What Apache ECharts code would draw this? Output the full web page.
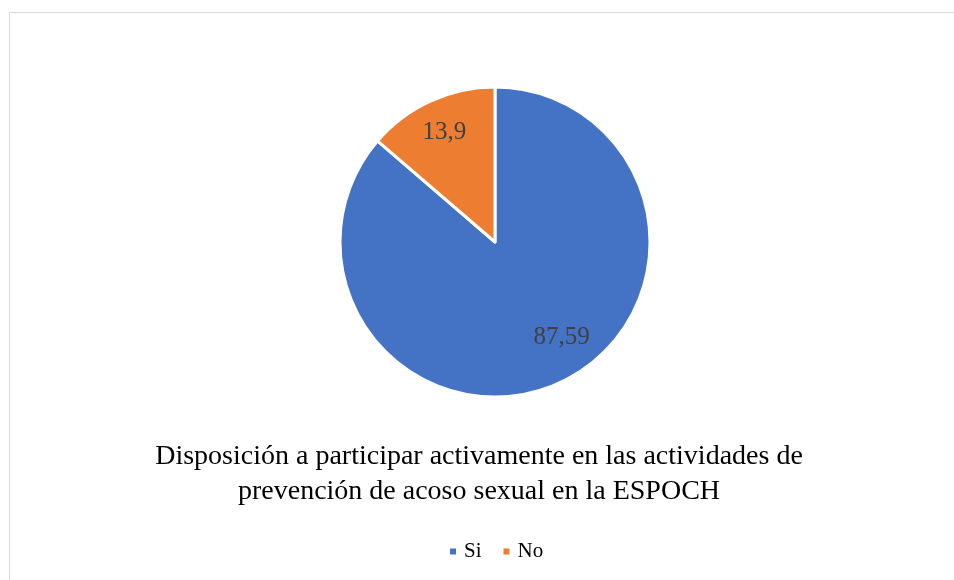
<!DOCTYPE html>
<html>
<head>
<meta charset="utf-8">
<script src="https://cdn.jsdelivr.net/npm/echarts@6/dist/echarts.min.js"></script>
<style>
  html, body { margin: 0; padding: 0; background: #fff; }
  #chart { width: 954px; height: 580px; }
</style>
</head>
<body>
<div id="chart"></div>
<script>
// data
const categories = ['Si', 'No'];
const values = [87.59, 13.9];
const colors = ['#4472C4', '#ED7D31'];
const labelOffsets = [[33, 22], [-17, -36]];
const titleLines = [
  'Disposición a participar activamente en las actividades de',
  'prevención de acoso sexual en la ESPOCH'
];

const serif = '"Liberation Serif", "Times New Roman", serif';

let chart = echarts.init(document.getElementById('chart'));
chart.setOption({
  animation: false,
  title: {
    text: titleLines.join('\n'),
    left: 474,
    textAlign: 'center',
    top: 434,
    textStyle: {
      fontFamily: serif,
      fontSize: 28,
      fontWeight: 'normal',
      color: '#000',
      lineHeight: 35
    }
  },
  legend: {
    data: categories,
    top: 536,
    left: 443,
    itemWidth: 8,
    itemHeight: 8,
    itemGap: 20,
    icon: 'rect',
    textStyle: {
      fontFamily: serif,
      fontSize: 21,
      color: '#000',
      padding: [0, 0, 0, 2]
    }
  },
  graphic: [{
    type: 'rect',
    shape: { x: 9.5, y: 12.5, width: 1200, height: 1200 },
    style: { fill: 'none', stroke: '#d9d9d9', lineWidth: 1 },
    silent: true
  }],
  series: [{
    type: 'pie',
    center: [495, 242],
    radius: 155,
    startAngle: 90,
    clockwise: true,
    data: categories.map((c, i) => ({
      name: c,
      value: values[i],
      itemStyle: { color: colors[i] },
      label: { offset: labelOffsets[i] }
    })),
    itemStyle: { borderColor: '#fff', borderWidth: 3 },
    label: {
      show: true,
      position: 'inside',
      fontFamily: serif,
      fontSize: 25,
      color: '#404040',
      formatter: p => String(p.value).replace('.', ',')
    },
    labelLine: { show: false },
    emphasis: { disabled: true }
  }]
});
</script>
</body>
</html>
